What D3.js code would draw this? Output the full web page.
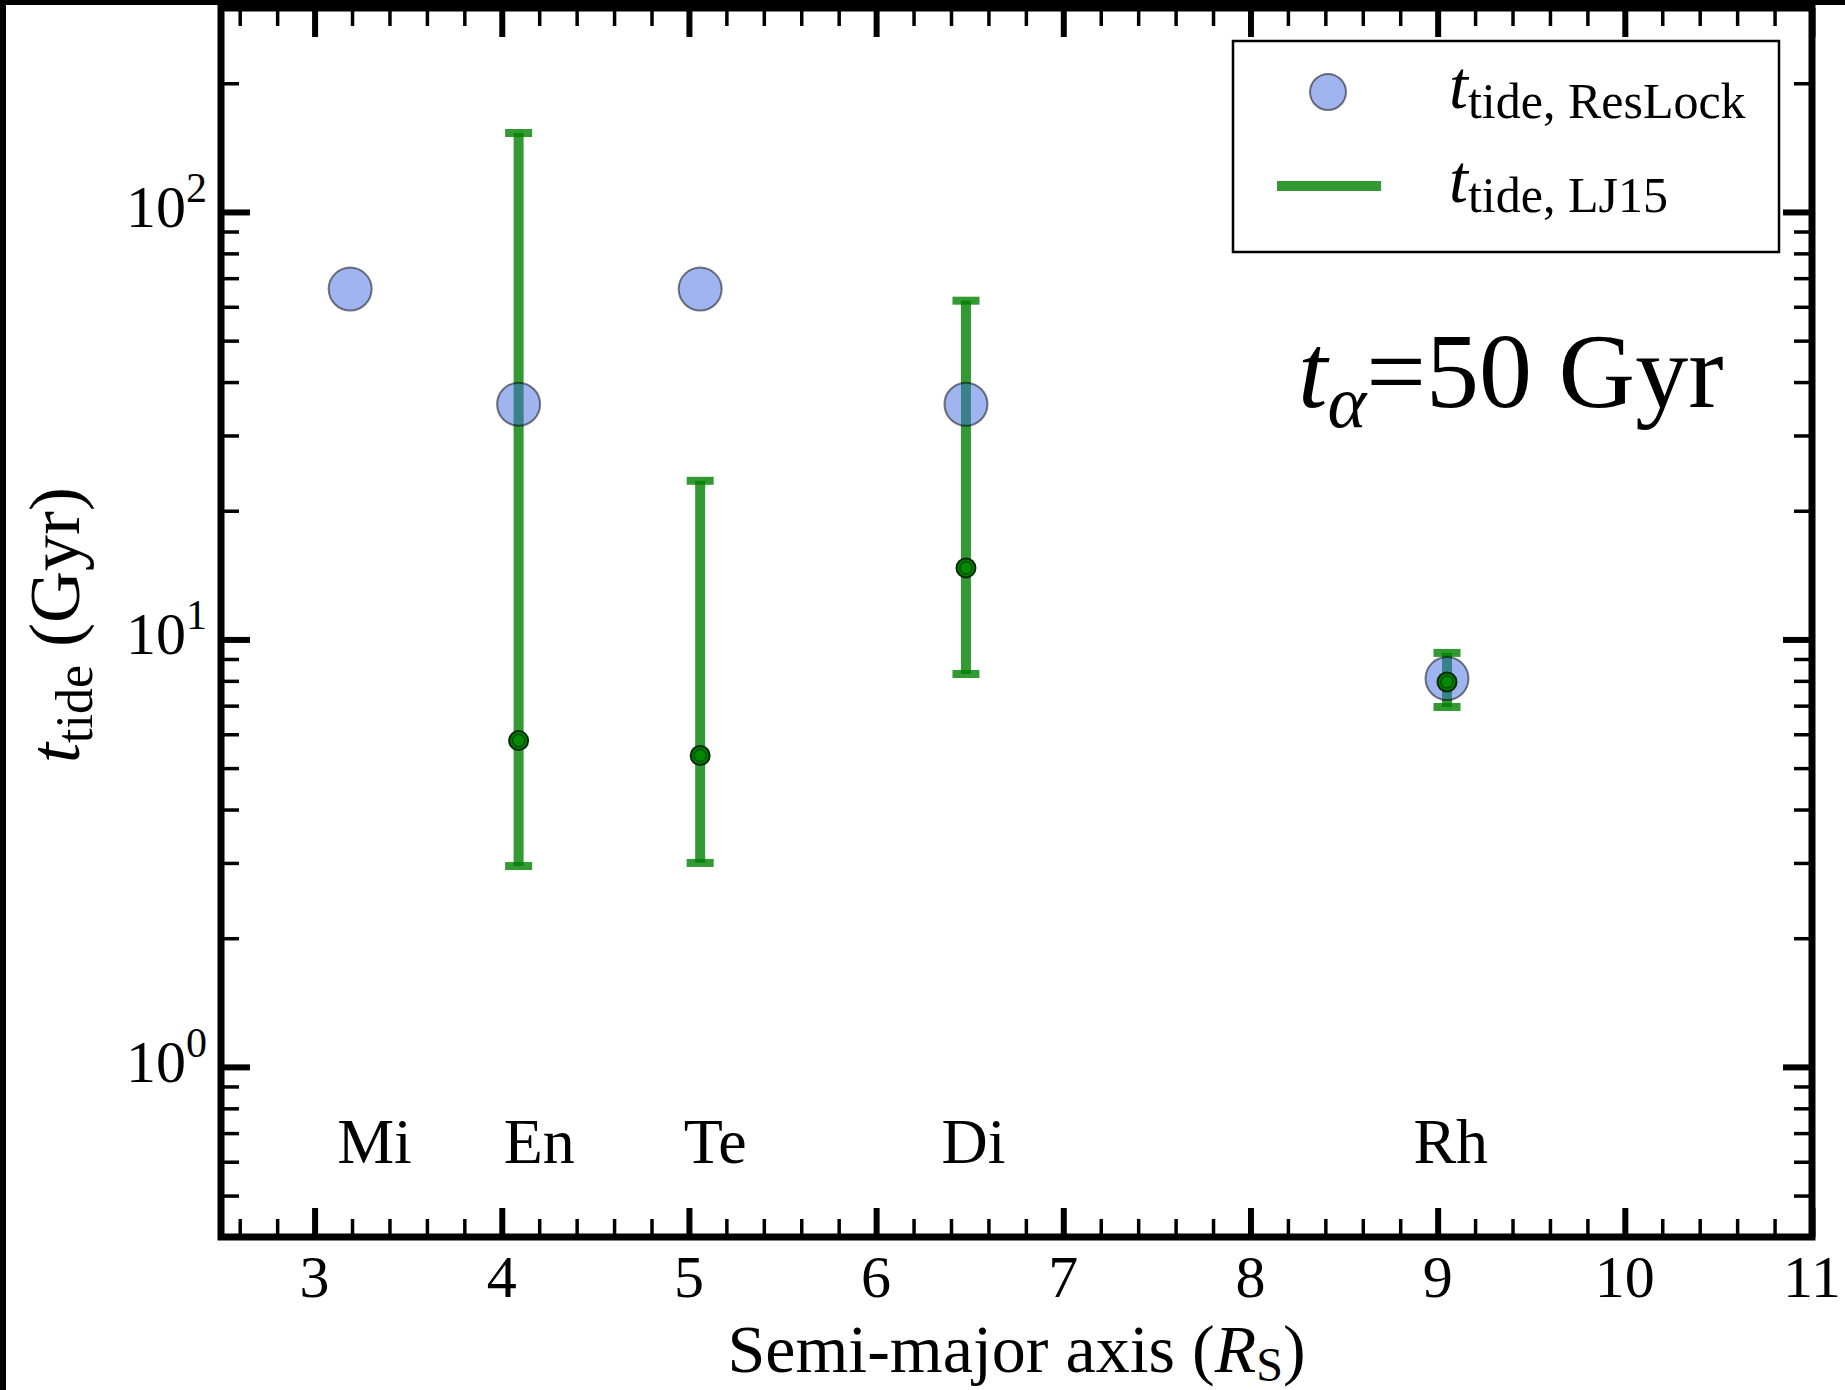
<!DOCTYPE html>
<html><head><meta charset="utf-8">
<script src="https://cdn.jsdelivr.net/npm/d3@7"></script>
<style>body{margin:0;background:#fff}svg{display:block}text{font-family:"Liberation Serif","Times New Roman",serif;fill:#000}</style>
</head><body><svg id="c" width="1845" height="1390"></svg>
<script>
// ---- data ----
const moons = ["Mi", "En", "Te", "Di", "Rh"];
const semiMajor = [3.19, 4.09, 5.06, 6.48, 9.05];
const moonLabelX = [3.32, 4.20, 5.14, 6.52, 9.07];
const tResLock = [66, 35.5, 66, 35.5, 8.1];
const ljMoons = ["En", "Te", "Di", "Rh"];
const ljX = [4.09, 5.06, 6.48, 9.05];
const ljMid = [5.8, 5.35, 14.7, 7.95];
const ljLow = [2.95, 3.0, 8.3, 6.95];
const ljHigh = [153, 23.5, 62, 9.3];
const xTicks = [3, 4, 5, 6, 7, 8, 9, 10, 11];
const xTickLabels = ["3", "4", "5", "6", "7", "8", "9", "10", "11"];
const yTicks = [1, 10, 100];
const yTickExp = ["0", "1", "2"];

// ---- layout ----
const L = 221, R = 1812, T = 8, B = 1237;
const svg = d3.select("#c");
const x = d3.scaleLinear().domain([2.5, 11]).range([L, R]);
const y = d3.scaleLog().domain([0.4, 300]).range([B, T]);

// image border artifacts
svg.append("rect").attr("x", 0).attr("y", 0).attr("width", 6).attr("height", 1390).attr("fill", "#000");
svg.append("rect").attr("x", 0).attr("y", 0).attr("width", 1845).attr("height", 5).attr("fill", "#000");

// minor tick values
const xMinor = [];
for (let k = 13; k <= 55; k++) if (k % 5 !== 0) xMinor.push(k / 5);
const yMinor = [];
[0.1, 1, 10, 100].forEach(d => { for (let m = 2; m <= 9; m++) { const v = d * m; if (v >= 0.4 && v <= 300) yMinor.push(v); } });

function styleAxis(g, w) {
  g.select(".domain").remove();
  g.selectAll(".tick line").attr("stroke", "#000").attr("stroke-width", w);
  g.selectAll(".tick text").remove();
}
const MAJ = 29, MIN = 18;
// bottom
svg.append("g").attr("transform", `translate(0,${B})`).call(d3.axisBottom(x).tickValues(xTicks).tickSize(-MAJ).tickFormat("")).call(g => styleAxis(g, 6));
svg.append("g").attr("transform", `translate(0,${B})`).call(d3.axisBottom(x).tickValues(xMinor).tickSize(-MIN).tickFormat("")).call(g => styleAxis(g, 3.5));
// top
svg.append("g").attr("transform", `translate(0,${T})`).call(d3.axisTop(x).tickValues(xTicks).tickSize(-MAJ).tickFormat("")).call(g => styleAxis(g, 6));
svg.append("g").attr("transform", `translate(0,${T})`).call(d3.axisTop(x).tickValues(xMinor).tickSize(-MIN).tickFormat("")).call(g => styleAxis(g, 3.5));
// left
svg.append("g").attr("transform", `translate(${L},0)`).call(d3.axisLeft(y).tickValues(yTicks).tickSize(-MAJ).tickFormat("")).call(g => styleAxis(g, 6));
svg.append("g").attr("transform", `translate(${L},0)`).call(d3.axisLeft(y).tickValues(yMinor).tickSize(-MIN).tickFormat("")).call(g => styleAxis(g, 3.5));
// right
svg.append("g").attr("transform", `translate(${R},0)`).call(d3.axisRight(y).tickValues(yTicks).tickSize(-MAJ).tickFormat("")).call(g => styleAxis(g, 6));
svg.append("g").attr("transform", `translate(${R},0)`).call(d3.axisRight(y).tickValues(yMinor).tickSize(-MIN).tickFormat("")).call(g => styleAxis(g, 3.5));

// spines
svg.append("rect").attr("x", L).attr("y", T).attr("width", R - L).attr("height", B - T)
  .attr("fill", "none").attr("stroke", "#000").attr("stroke-width", 7);

// x tick labels
svg.append("g").selectAll("text").data(xTicks).join("text")
  .attr("x", d => x(d)).attr("y", B + 60).attr("text-anchor", "middle").attr("font-size", 60)
  .text((d, i) => xTickLabels[i]);

// y tick labels 10^n
const yl = svg.append("g").selectAll("text").data(yTicks).join("text")
  .attr("x", L - 14).attr("y", d => y(d) + 15).attr("text-anchor", "end").attr("font-size", 60);
yl.append("tspan").text("10");
yl.append("tspan").attr("font-size", 42).attr("dy", -25).text((d, i) => yTickExp[i]);

// axis labels
const xl = svg.append("text").attr("x", (L + R) / 2).attr("y", 1372).attr("text-anchor", "middle").attr("font-size", 68);
xl.append("tspan").text("Semi-major axis (");
xl.append("tspan").attr("font-style", "italic").text("R");
xl.append("tspan").attr("font-size", 48).attr("dy", 9).text("S");
xl.append("tspan").attr("dy", -9).text(")");

const ylab = svg.append("text").attr("transform", "translate(79,763) rotate(-90)").attr("text-anchor", "start").attr("font-size", 72);
ylab.append("tspan").attr("font-style", "italic").text("t");
ylab.append("tspan").attr("font-size", 52).attr("dy", 13).text("tide");
ylab.append("tspan").attr("dy", -13).attr("dx", 18).text("(Gyr)");

// error bars (LJ15)
const gBars = svg.append("g").attr("fill", "#008000").attr("stroke", "none");
ljX.forEach((xv, i) => {
  const cx = x(xv);
  gBars.append("rect").attr("x", cx - 5).attr("y", y(ljHigh[i])).attr("width", 10).attr("height", y(ljLow[i]) - y(ljHigh[i])).attr("opacity", 0.8);
  gBars.append("rect").attr("x", cx - 13.5).attr("y", y(ljHigh[i]) - 4).attr("width", 27).attr("height", 8).attr("opacity", 0.8);
  gBars.append("rect").attr("x", cx - 13.5).attr("y", y(ljLow[i]) - 4).attr("width", 27).attr("height", 8).attr("opacity", 0.8);
});

// ResLock circles
svg.append("g").selectAll("circle").data(semiMajor).join("circle")
  .attr("cx", d => x(d)).attr("cy", (d, i) => y(tResLock[i])).attr("r", 21.5)
  .attr("fill", "rgb(65,105,225)").attr("fill-opacity", 0.5)
  .attr("stroke", "#000").attr("stroke-opacity", 0.5).attr("stroke-width", 2);

// LJ15 central dots
const gDots = svg.append("g");
gDots.selectAll("circle.o").data(ljX).join("circle").attr("class", "o")
  .attr("cx", d => x(d)).attr("cy", (d, i) => y(ljMid[i])).attr("r", 9.5)
  .attr("fill", "#007a00").attr("stroke", "#0b2b0b").attr("stroke-width", 2);
gDots.selectAll("circle.i").data(ljX).join("circle").attr("class", "i")
  .attr("cx", d => x(d)).attr("cy", (d, i) => y(ljMid[i])).attr("r", 6)
  .attr("fill", "#008a00").attr("stroke", "#063006").attr("stroke-width", 1);

// moon labels
svg.append("g").selectAll("text").data(moons).join("text")
  .attr("x", (d, i) => x(moonLabelX[i])).attr("y", 1163).attr("text-anchor", "middle").attr("font-size", 64)
  .text(d => d);

// annotation t_alpha = 50 Gyr
const ann = svg.append("text").attr("x", 1298).attr("y", 407).attr("font-size", 106);
ann.append("tspan").attr("font-style", "italic").text("t");
ann.append("tspan").attr("font-style", "italic").attr("font-size", 74).attr("dy", 20).text("α");
ann.append("tspan").attr("dy", -20).text("=50 Gyr");

// legend
const lg = svg.append("g");
lg.append("rect").attr("x", 1233).attr("y", 41).attr("width", 546).attr("height", 211)
  .attr("fill", "#fff").attr("stroke", "#000").attr("stroke-width", 2.5);
lg.append("circle").attr("cx", 1328).attr("cy", 92).attr("r", 18)
  .attr("fill", "rgb(65,105,225)").attr("fill-opacity", 0.5)
  .attr("stroke", "#000").attr("stroke-opacity", 0.5).attr("stroke-width", 2);
lg.append("line").attr("x1", 1277).attr("x2", 1381).attr("y1", 186).attr("y2", 186)
  .attr("stroke", "#008000").attr("stroke-opacity", 0.8).attr("stroke-width", 10);
const legendText = [["ResLock", 108], ["LJ15", 202]];
legendText.forEach(([lab, yy]) => {
  const t = lg.append("text").attr("x", 1449).attr("y", yy).attr("font-size", 68);
  t.append("tspan").attr("font-style", "italic").text("t");
  t.append("tspan").attr("font-size", 50).attr("dy", 10).text("tide, " + lab);
});
</script></body></html>
